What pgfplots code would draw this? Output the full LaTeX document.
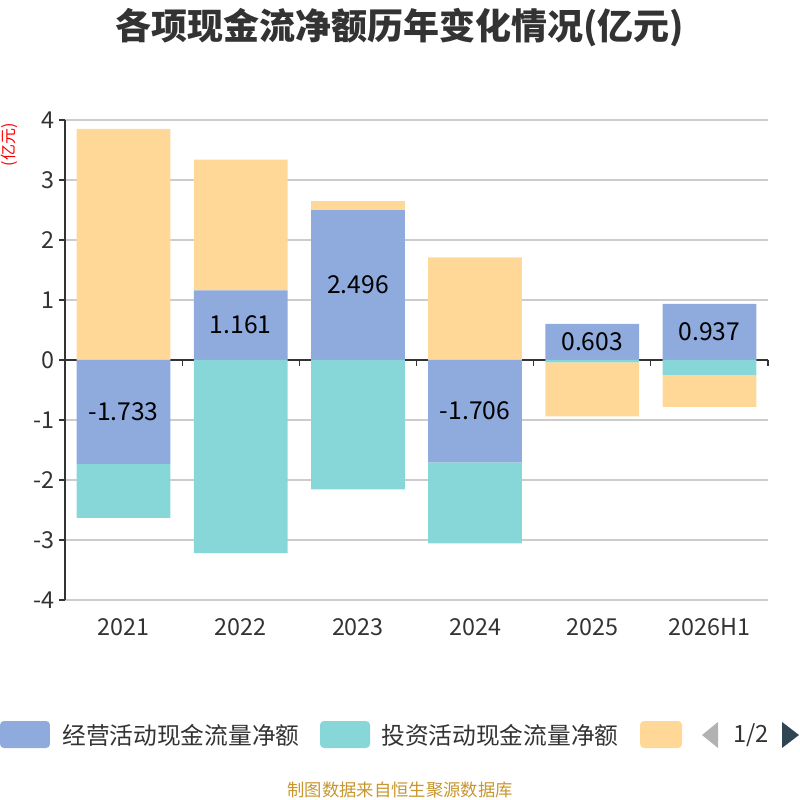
\documentclass[border=0pt]{standalone}
\usepackage{fontspec}
\setmainfont{Noto Sans CJK SC}
\usepackage{pgfplots}
\pgfplotsset{compat=1.18}
\definecolor{cop}{HTML}{8FAADC}
\definecolor{cinv}{HTML}{87D7D8}
\definecolor{cfin}{HTML}{FFD898}
\definecolor{ctxt}{HTML}{333333}
\definecolor{cgrid}{HTML}{CCCCCC}
\definecolor{cfoot}{HTML}{C8962E}
\definecolor{carrow}{HTML}{2F4554}
\pgfplotsset{base/.style={at={(0,0)},anchor=south west, scale only axis,
  width=527.25pt, height=360pt, xmin=-0.5,xmax=5.5,ymin=-4,ymax=4, clip=false}}
\tikzset{dlab/.style={font=\fontsize{18.5}{18.5}\selectfont, text=black}}
\begin{document}
\begin{tikzpicture}
\path[use as bounding box] (-48.75pt,-150pt) rectangle (551.25pt,450pt);
% base axis: grid, ticks, labels
\begin{axis}[base,
 axis x line*=bottom, axis y line*=left,
 x axis line style={draw=none},
 y axis line style={draw=ctxt, line width=0.8pt},
 xtick={0,...,5}, xticklabels={2021,2022,2023,2024,2025,2026H1},
 xtick style={draw=none},
 ytick={-4,...,4},
 ytick style={draw=ctxt, line width=0.8pt},
 tick align=outside, major tick length=4.5pt,
 ymajorgrids, grid style={draw=cgrid, line width=0.8pt},
 ticklabel style={font=\fontsize{17.5}{17.5}\selectfont, text=ctxt},
 xticklabel style={yshift=-6pt},
 /pgf/number format/assume math mode=true,
]
\draw[ctxt, line width=0.8pt] (axis cs:-0.5,0) -- (axis cs:5.5,0);
\pgfplotsinvokeforeach{-0.5,0.5,1.5,2.5,3.5,4.5,5.5}{\draw[ctxt,line width=0.8pt] (axis cs:#1,0) -- ++(0pt,-4.5pt);}
\end{axis}
% positive parts
\begin{axis}[base, hide axis, ybar stacked, bar width=0.8]
\addplot[fill=cop, draw=none] coordinates {(0,0) (1,1.161) (2,2.496) (3,0) (4,0.603) (5,0.937)};
\addplot[fill=cinv, draw=none] coordinates {(0,0) (1,0) (2,0) (3,0) (4,0) (5,0)};
\addplot[fill=cfin, draw=none] coordinates {(0,3.85) (1,2.18) (2,0.15) (3,1.71) (4,0) (5,0)};
\end{axis}
% negative parts
\begin{axis}[base, hide axis, ybar stacked, bar width=0.8]
\addplot[fill=cop, draw=none] coordinates {(0,-1.733) (1,0) (2,0) (3,-1.706) (4,0) (5,0)};
\addplot[fill=cinv, draw=none] coordinates {(0,-0.897) (1,-3.22) (2,-2.155) (3,-1.35) (4,-0.04) (5,-0.25)};
\addplot[fill=cfin, draw=none] coordinates {(0,0) (1,0) (2,0) (3,0) (4,-0.90) (5,-0.533)};
\end{axis}
% labels
\begin{axis}[base, hide axis]
\node[dlab] at (axis cs:0,-0.8665) {-1.733};
\node[dlab] at (axis cs:1,0.5805) {1.161};
\node[dlab] at (axis cs:2,1.248) {2.496};
\node[dlab] at (axis cs:3,-0.853) {-1.706};
\node[dlab] at (axis cs:4,0.3015) {0.603};
\node[dlab] at (axis cs:5,0.4685) {0.937};
\end{axis}
\begin{scope}[x=0.75pt,y=-0.75pt,shift={(-48.75pt,450pt)}]
\node[font=\bfseries\fontsize{27}{27}\selectfont, text=ctxt] at (400,28) {各项现金流净额历年变化情况(亿元)};
\node[rotate=90, text=red, font=\fontsize{12}{12}\selectfont, inner sep=0pt] at (9,145) {(亿元)};
\fill[cop, rounded corners=3pt] (0,721) rectangle (50,748);
\node[anchor=west, font=\fontsize{17.8}{17.8}\selectfont, text=ctxt, inner sep=0pt] at (62,735) {经营活动现金流量净额};
\fill[cinv, rounded corners=3pt] (320,721) rectangle (370,748);
\node[anchor=west, font=\fontsize{17.8}{17.8}\selectfont, text=ctxt, inner sep=0pt] at (381,735) {投资活动现金流量净额};
\fill[cfin, rounded corners=3pt] (640,721) rectangle (682,748);
\fill[gray!60] (718,722) -- (718,748) -- (702,735) -- cycle;
\node[font=\fontsize{17.8}{17.8}\selectfont, text=ctxt] at (751,735) {1/2};
\fill[carrow] (782,722) -- (782,748) -- (799,735) -- cycle;
\node[font=\fontsize{13}{13}\selectfont, text=cfoot] at (400,790) {制图数据来自恒生聚源数据库};
\end{scope}
\end{tikzpicture}
\end{document}
